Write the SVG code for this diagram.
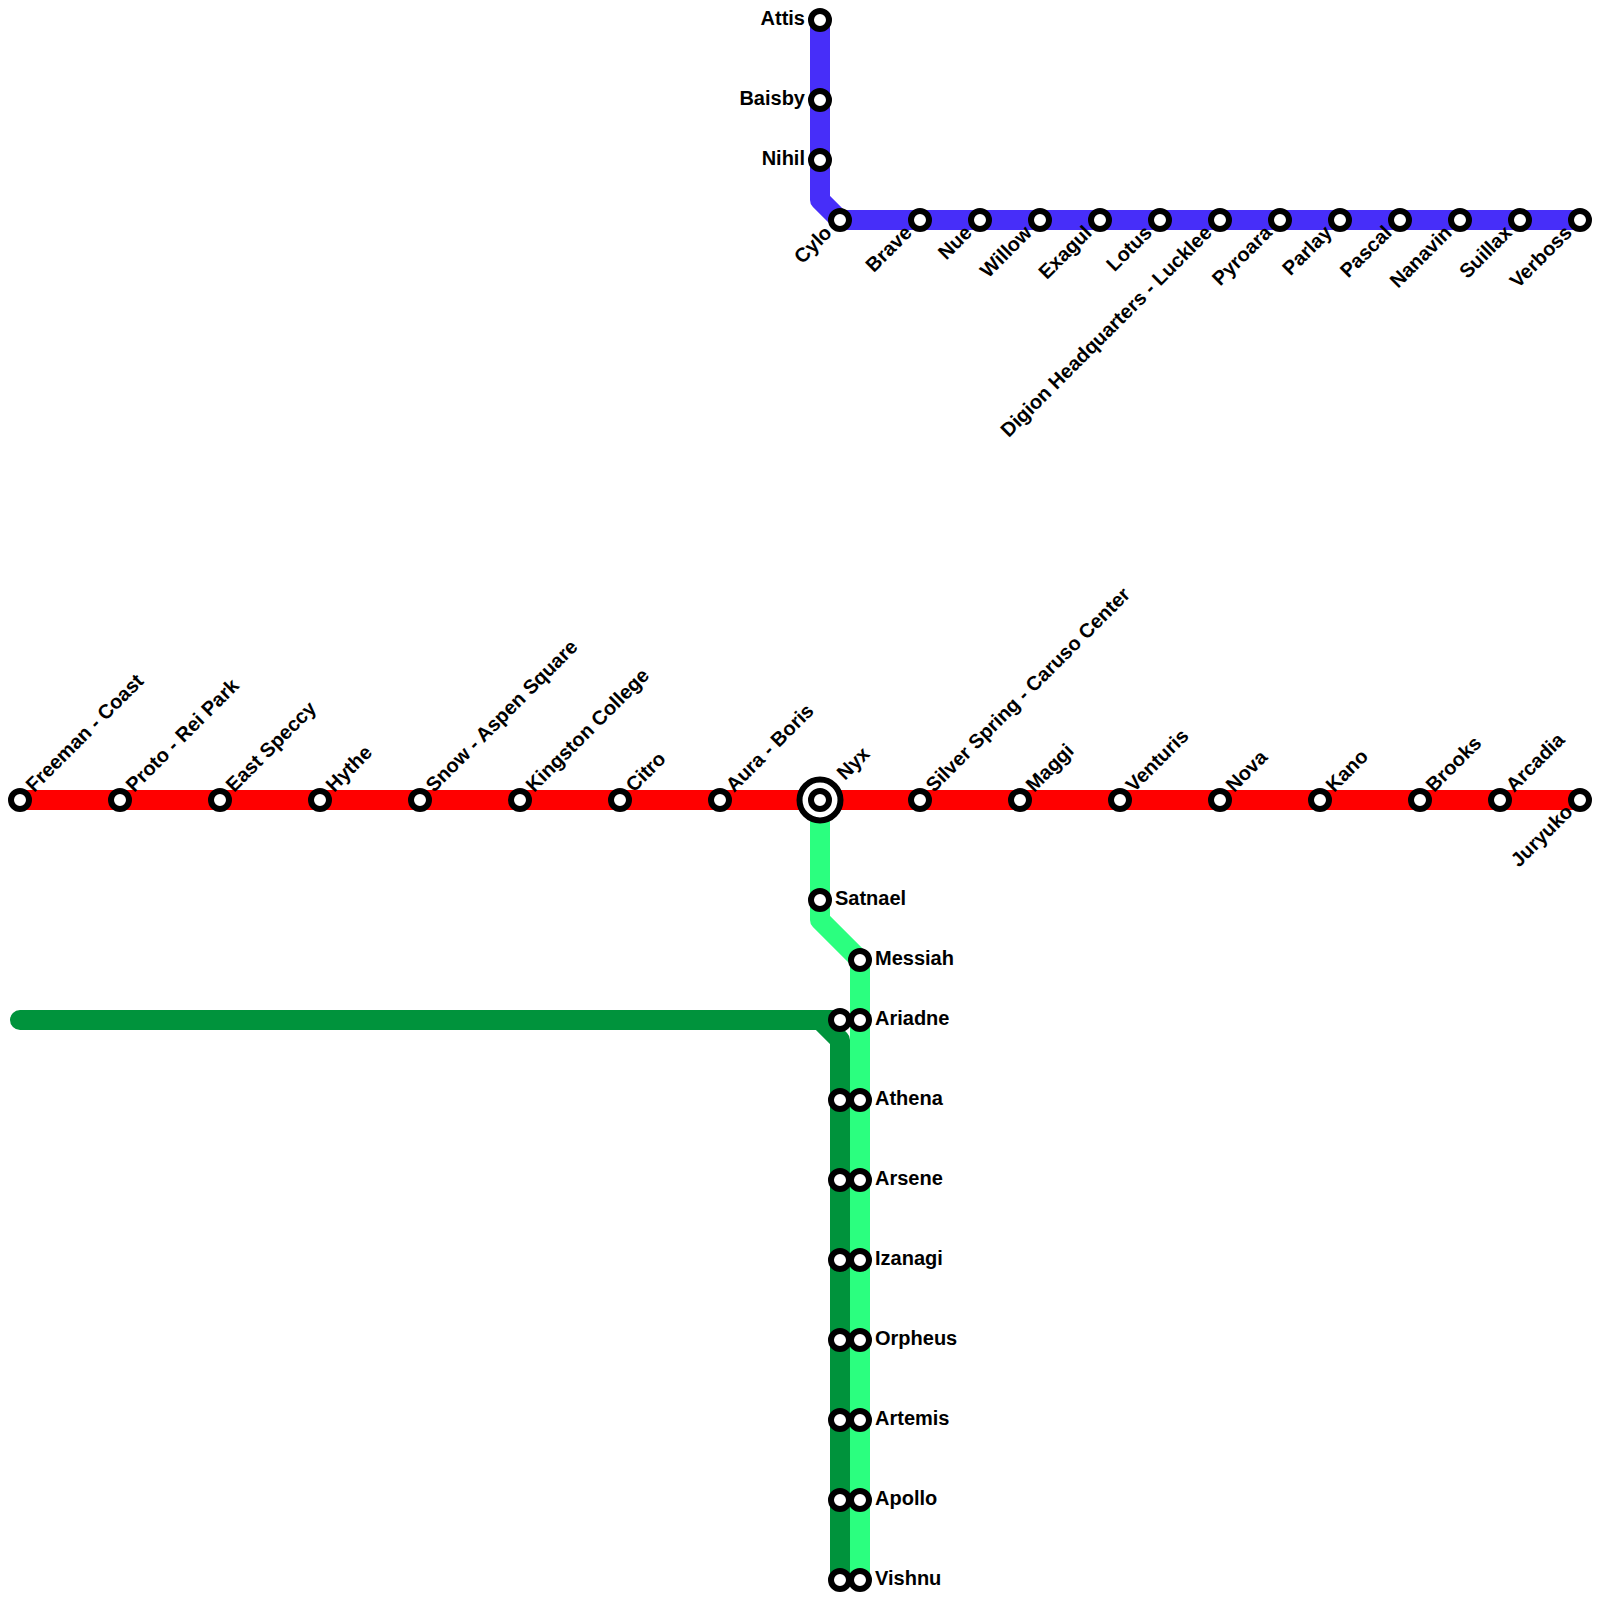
<svg xmlns="http://www.w3.org/2000/svg" width="1600" height="1600" viewBox="0 0 1600 1600">
<style>
.l{fill:none;stroke-width:20;stroke-linejoin:round;stroke-linecap:round}
.s{fill:#fff;stroke:#000;stroke-width:6}
text{font-family:"Liberation Sans",Arial,sans-serif;font-weight:700;font-size:20px;fill:#000}
.e{text-anchor:end}
</style>
<rect width="1600" height="1600" fill="#fff"/>
<g id="connectors">
<path class="l" stroke="#00933c" d="M20 1020H840M820 1020L840 1040V1580"/>
<path class="l" stroke="#2bff7f" d="M820 800V920L860 960V1580"/>
<path class="l" stroke="#472ef9" d="M820 20V200L840 220H1580"/>
<path class="l" stroke="#ff0000" d="M20 800H1580"/>
</g>
<g id="n-freeman"><circle class="s" cx="20" cy="800" r="9"/><text transform="translate(34 793) rotate(-45)">Freeman - Coast</text></g>
<g id="n-proto"><circle class="s" cx="120" cy="800" r="9"/><text transform="translate(134 793) rotate(-45)">Proto - Rei Park</text></g>
<g id="n-east"><circle class="s" cx="220" cy="800" r="9"/><text transform="translate(234 793) rotate(-45)">East Speccy</text></g>
<g id="n-hythe"><circle class="s" cx="320" cy="800" r="9"/><text transform="translate(334 793) rotate(-45)">Hythe</text></g>
<g id="n-snow"><circle class="s" cx="420" cy="800" r="9"/><text transform="translate(434 793) rotate(-45)">Snow - Aspen Square</text></g>
<g id="n-kingston"><circle class="s" cx="520" cy="800" r="9"/><text transform="translate(534 793) rotate(-45)">Kingston College</text></g>
<g id="n-citro"><circle class="s" cx="620" cy="800" r="9"/><text transform="translate(634 793) rotate(-45)">Citro</text></g>
<g id="n-aura"><circle class="s" cx="720" cy="800" r="9"/><text transform="translate(734 793) rotate(-45)">Aura - Boris</text></g>
<g id="n-nyx"><circle class="s" cx="820" cy="800" r="20.5"/><circle class="s" cx="820" cy="800" r="9"/><text transform="translate(845 781) rotate(-45)">Nyx</text></g>
<g id="n-silver"><circle class="s" cx="920" cy="800" r="9"/><text transform="translate(934 793) rotate(-45)">Silver Spring - Caruso Center</text></g>
<g id="n-maggi"><circle class="s" cx="1020" cy="800" r="9"/><text transform="translate(1034 793) rotate(-45)">Maggi</text></g>
<g id="n-venturis"><circle class="s" cx="1120" cy="800" r="9"/><text transform="translate(1134 793) rotate(-45)">Venturis</text></g>
<g id="n-nova"><circle class="s" cx="1220" cy="800" r="9"/><text transform="translate(1234 793) rotate(-45)">Nova</text></g>
<g id="n-kano"><circle class="s" cx="1320" cy="800" r="9"/><text transform="translate(1334 793) rotate(-45)">Kano</text></g>
<g id="n-brooks"><circle class="s" cx="1420" cy="800" r="9"/><text transform="translate(1434 793) rotate(-45)">Brooks</text></g>
<g id="n-arcadia"><circle class="s" cx="1500" cy="800" r="9"/><text transform="translate(1514 793) rotate(-45)">Arcadia</text></g>
<g id="n-juryuko"><circle class="s" cx="1580" cy="800" r="9"/><text class="e" transform="translate(1574 813) rotate(-45)">Juryuko</text></g>
<g id="n-attis"><circle class="s" cx="820" cy="20" r="9"/><text class="e" x="805" y="25">Attis</text></g>
<g id="n-baisby"><circle class="s" cx="820" cy="100" r="9"/><text class="e" x="805" y="105">Baisby</text></g>
<g id="n-nihil"><circle class="s" cx="820" cy="160" r="9"/><text class="e" x="805" y="165">Nihil</text></g>
<g id="n-cylo"><circle class="s" cx="840" cy="220" r="9"/><text class="e" transform="translate(833 234) rotate(-45)">Cylo</text></g>
<g id="n-brave"><circle class="s" cx="920" cy="220" r="9"/><text class="e" transform="translate(913 234) rotate(-45)">Brave</text></g>
<g id="n-nue"><circle class="s" cx="980" cy="220" r="9"/><text class="e" transform="translate(973 234) rotate(-45)">Nue</text></g>
<g id="n-willow"><circle class="s" cx="1040" cy="220" r="9"/><text class="e" transform="translate(1033 234) rotate(-45)">Willow</text></g>
<g id="n-exagul"><circle class="s" cx="1100" cy="220" r="9"/><text class="e" transform="translate(1093 234) rotate(-45)">Exagul</text></g>
<g id="n-lotus"><circle class="s" cx="1160" cy="220" r="9"/><text class="e" transform="translate(1153 234) rotate(-45)">Lotus</text></g>
<g id="n-digion"><circle class="s" cx="1220" cy="220" r="9"/><text class="e" transform="translate(1213 234) rotate(-45)">Digion Headquarters - Lucklee</text></g>
<g id="n-pyroara"><circle class="s" cx="1280" cy="220" r="9"/><text class="e" transform="translate(1273 234) rotate(-45)">Pyroara</text></g>
<g id="n-parlay"><circle class="s" cx="1340" cy="220" r="9"/><text class="e" transform="translate(1333 234) rotate(-45)">Parlay</text></g>
<g id="n-pascal"><circle class="s" cx="1400" cy="220" r="9"/><text class="e" transform="translate(1393 234) rotate(-45)">Pascal</text></g>
<g id="n-nanavin"><circle class="s" cx="1460" cy="220" r="9"/><text class="e" transform="translate(1453 234) rotate(-45)">Nanavin</text></g>
<g id="n-suillax"><circle class="s" cx="1520" cy="220" r="9"/><text class="e" transform="translate(1513 234) rotate(-45)">Suillax</text></g>
<g id="n-verboss"><circle class="s" cx="1580" cy="220" r="9"/><text class="e" transform="translate(1573 234) rotate(-45)">Verboss</text></g>
<g id="n-satnael"><circle class="s" cx="820" cy="900" r="9"/><text x="835" y="905">Satnael</text></g>
<g id="n-messiah"><circle class="s" cx="860" cy="960" r="9"/><text x="875" y="965">Messiah</text></g>
<g id="n-ariadne-d"><circle class="s" cx="840" cy="1020" r="9"/></g>
<g id="n-ariadne"><circle class="s" cx="860" cy="1020" r="9"/><text x="875" y="1025">Ariadne</text></g>
<g id="n-athena-d"><circle class="s" cx="840" cy="1100" r="9"/></g>
<g id="n-athena"><circle class="s" cx="860" cy="1100" r="9"/><text x="875" y="1105">Athena</text></g>
<g id="n-arsene-d"><circle class="s" cx="840" cy="1180" r="9"/></g>
<g id="n-arsene"><circle class="s" cx="860" cy="1180" r="9"/><text x="875" y="1185">Arsene</text></g>
<g id="n-izanagi-d"><circle class="s" cx="840" cy="1260" r="9"/></g>
<g id="n-izanagi"><circle class="s" cx="860" cy="1260" r="9"/><text x="875" y="1265">Izanagi</text></g>
<g id="n-orpheus-d"><circle class="s" cx="840" cy="1340" r="9"/></g>
<g id="n-orpheus"><circle class="s" cx="860" cy="1340" r="9"/><text x="875" y="1345">Orpheus</text></g>
<g id="n-artemis-d"><circle class="s" cx="840" cy="1420" r="9"/></g>
<g id="n-artemis"><circle class="s" cx="860" cy="1420" r="9"/><text x="875" y="1425">Artemis</text></g>
<g id="n-apollo-d"><circle class="s" cx="840" cy="1500" r="9"/></g>
<g id="n-apollo"><circle class="s" cx="860" cy="1500" r="9"/><text x="875" y="1505">Apollo</text></g>
<g id="n-vishnu-d"><circle class="s" cx="840" cy="1580" r="9"/></g>
<g id="n-vishnu"><circle class="s" cx="860" cy="1580" r="9"/><text x="875" y="1585">Vishnu</text></g>
</svg>
